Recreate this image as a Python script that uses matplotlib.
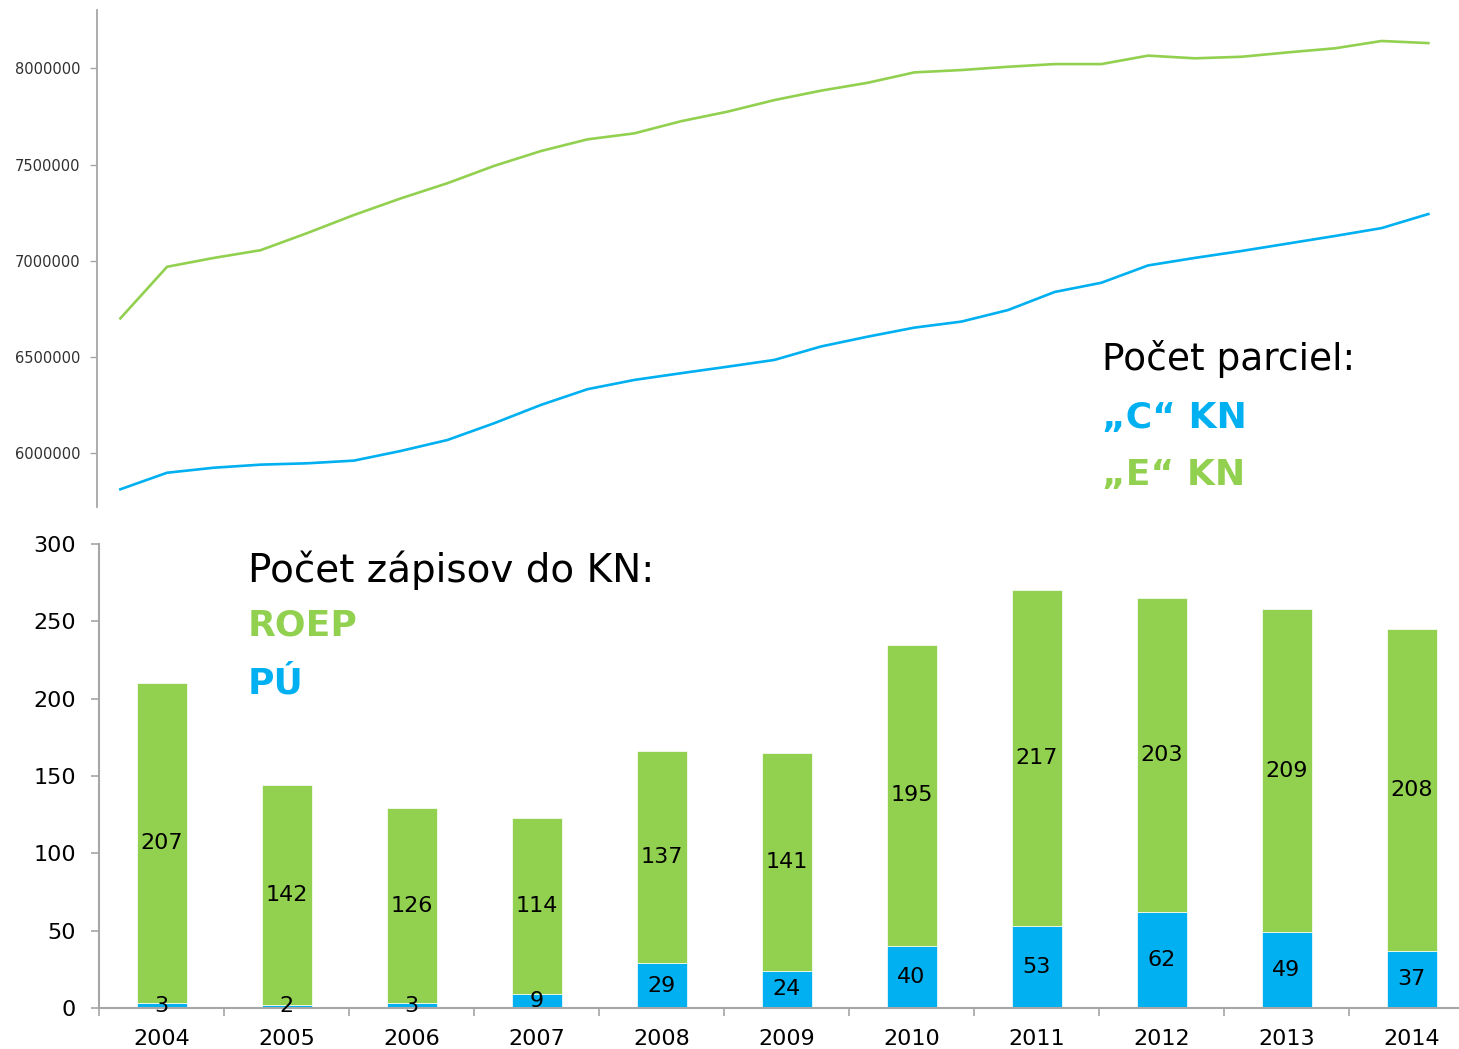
import numpy as np
import matplotlib.pyplot as plt
from matplotlib.ticker import FixedLocator

# horná časť - počet parciel (29 bodov)
parcely_c = [5813000, 5899000, 5925000, 5941000, 5948000, 5962000, 6012000, 6069000,
             6156000, 6251000, 6333000, 6381000, 6416000, 6450000, 6485000, 6555000,
             6606000, 6653000, 6684000, 6744000, 6838000, 6886000, 6976000, 7015000,
             7051000, 7090000, 7129000, 7170000, 7243000]
parcely_e = [6701000, 6969000, 7015000, 7055000, 7144000, 7238000, 7324000, 7403000,
             7493000, 7570000, 7631000, 7662000, 7725000, 7775000, 7835000, 7884000,
             7925000, 7979000, 7991000, 8008000, 8022000, 8022000, 8066000, 8052000,
             8060000, 8083000, 8104000, 8142000, 8131000]
top_ticks = [6000000, 6500000, 7000000, 7500000, 8000000]

# dolná časť - počet zápisov do KN
roky = ['2004', '2005', '2006', '2007', '2008', '2009', '2010', '2011', '2012', '2013', '2014']
pu = [3, 2, 3, 9, 29, 24, 40, 53, 62, 49, 37]
roep = [207, 142, 126, 114, 137, 141, 195, 217, 203, 209, 208]
bottom_ticks = [0, 50, 100, 150, 200, 250, 300]

ZELENA = '#92D050'
MODRA = '#00B0F0'
SIVA = '#a6a6a6'

plt.rcParams['font.family'] = ['DejaVu Sans']

W, H = 1459, 1049
fig = plt.figure(figsize=(W / 100, H / 100), dpi=100)

# --- horný graf ---
ax1 = fig.add_axes([97 / W, 1 - 507 / H, 1354.7 / W, 497 / H])
x = np.arange(len(parcely_c))
ax1.plot(x, parcely_e, color=ZELENA, lw=1.9)
ax1.plot(x, parcely_c, color=MODRA, lw=1.9)
ax1.set_xlim(-0.5, len(parcely_c) - 0.5)
ax1.set_ylim(5721000, 8303000)
ax1.set_yticks(top_ticks)
ax1.set_yticklabels([str(t) for t in top_ticks])
ax1.set_xticks([])
for s in ['top', 'right', 'bottom']:
    ax1.spines[s].set_visible(False)
ax1.spines['left'].set_color(SIVA)
ax1.spines['left'].set_linewidth(1.3)
ax1.tick_params(axis='y', length=5, width=1, color=SIVA, pad=7,
                labelsize=10.5, labelcolor='#303030')

# --- dolný graf ---
ax2 = fig.add_axes([99 / W, 1 - 1008 / H, 1375 / W, 464 / H])
xb = np.arange(len(roky))
b1 = ax2.bar(xb, pu, width=0.4, color=MODRA, edgecolor='white', linewidth=0.5)
b2 = ax2.bar(xb, roep, width=0.4, bottom=pu, color=ZELENA, edgecolor='white', linewidth=0.5)
ax2.bar_label(b1, label_type='center', fontsize=16)
ax2.bar_label(b2, label_type='center', fontsize=16)
ax2.set_xlim(-0.5, len(roky) - 0.5)
ax2.set_ylim(0, 300)
ax2.set_yticks(bottom_ticks)
ax2.set_xticks(xb)
ax2.set_xticklabels(roky)
ax2.xaxis.set_minor_locator(FixedLocator(np.arange(-0.5, len(roky), 1.0)))
for s in ['top', 'right']:
    ax2.spines[s].set_visible(False)
for s in ['left', 'bottom']:
    ax2.spines[s].set_color(SIVA)
    ax2.spines[s].set_linewidth(1.5)
ax2.tick_params(axis='y', length=6, width=1.2, color=SIVA, pad=10.5, labelsize=16)
ax2.tick_params(axis='x', which='major', length=0, pad=15, labelsize=16)
ax2.tick_params(axis='x', which='minor', length=6, width=1.2, color=SIVA)

# popisy
fig.text(1102 / W, 1 - 370 / H, 'Počet parciel:', fontsize=27, va='baseline')
fig.text(1102 / W, 1 - 428 / H, '„C“ KN', fontsize=26, weight='bold', color=MODRA, va='baseline')
fig.text(1102 / W, 1 - 485 / H, '„E“ KN', fontsize=26, weight='bold', color=ZELENA, va='baseline')

fig.text(248 / W, 1 - 582 / H, 'Počet zápisov do KN:', fontsize=28, va='baseline')
fig.text(248 / W, 1 - 635 / H, 'ROEP', fontsize=26, weight='bold', color=ZELENA, va='baseline')
fig.text(248 / W, 1 - 693 / H, 'PÚ', fontsize=26, weight='bold', color=MODRA, va='baseline')

fig.savefig('out.png', dpi=100)
